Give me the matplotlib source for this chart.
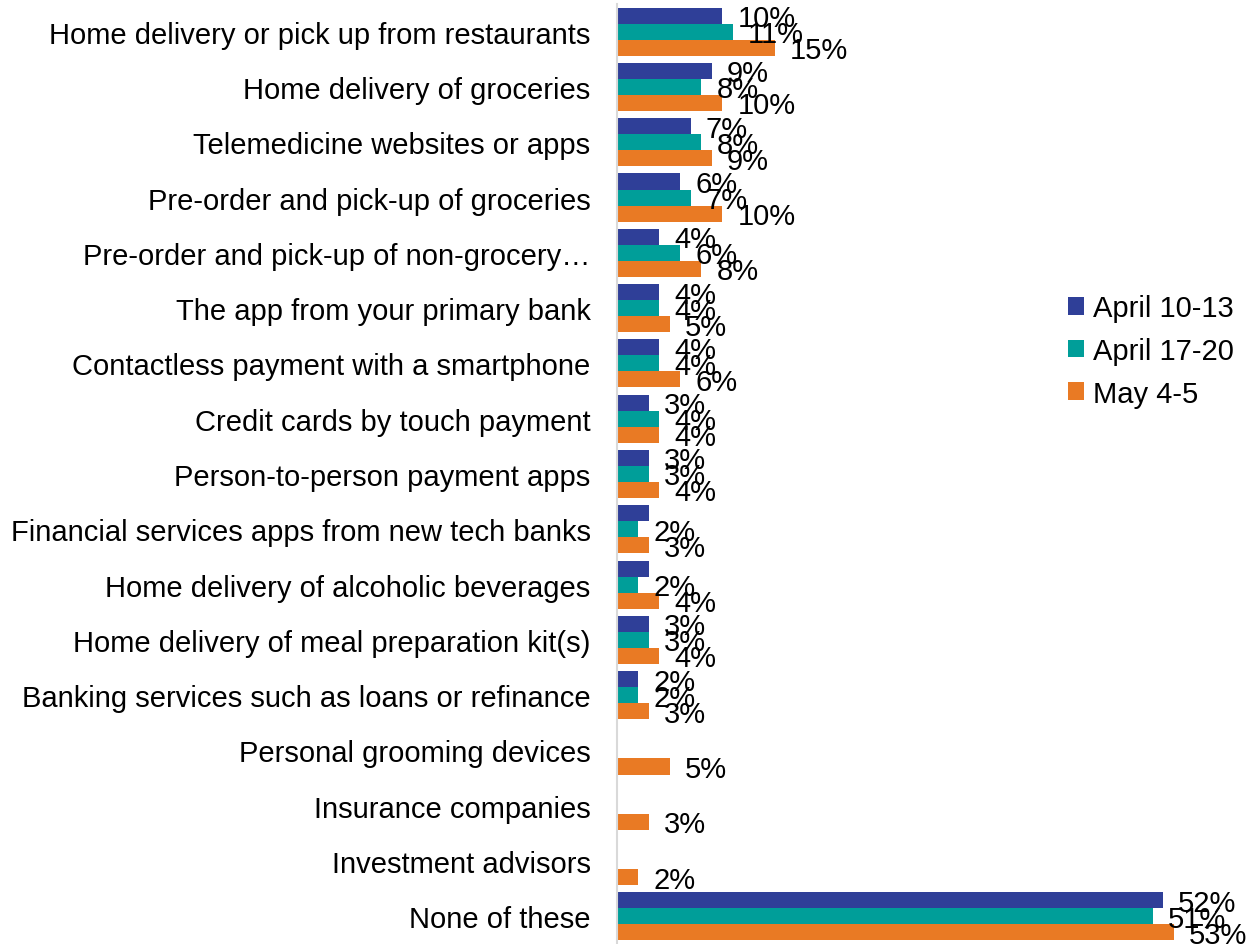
import numpy as np
import matplotlib
matplotlib.use('Agg')
import matplotlib.pyplot as plt

plt.rcParams['font.family'] = ['Liberation Sans', 'DejaVu Sans']

categories = [
    'Home delivery or pick up from restaurants',
    'Home delivery of groceries',
    'Telemedicine websites or apps',
    'Pre-order and pick-up of groceries',
    'Pre-order and pick-up of non-grocery\u2026',
    'The app from your primary bank',
    'Contactless payment with a smartphone',
    'Credit cards by touch payment',
    'Person-to-person payment apps',
    'Financial services apps from new tech banks',
    'Home delivery of alcoholic beverages',
    'Home delivery of meal preparation kit(s)',
    'Banking services such as loans or refinance',
    'Personal grooming devices',
    'Insurance companies',
    'Investment advisors',
    'None of these',
]
series_names = ['April 10-13', 'April 17-20', 'May 4-5']
april_10_13 = [10, 9, 7, 6, 4, 4, 4, 3, 3, 3, 3, 3, 2, np.nan, np.nan, np.nan, 52]
april_17_20 = [11, 8, 8, 7, 6, 4, 4, 4, 3, 2, 2, 3, 2, np.nan, np.nan, np.nan, 51]
may_4_5 = [15, 10, 9, 10, 8, 5, 6, 4, 4, 3, 4, 4, 3, 5, 3, 2, 53]
# labels that are not shown in the original (overlapped)
hidden_labels = {(0, 9), (0, 10)}

colors = ['#2F3F98', '#009E99', '#E97A24']

fig = plt.figure(figsize=(12.5, 9.45), dpi=100)
ax = fig.add_axes([617 / 1250, 0.0, 630 / 1250, 940 / 945])

y = np.arange(len(categories))
h = 0.29
fs = 21
cap_off = -0.716 * fs / 2

for i, vals in enumerate([april_10_13, april_17_20, may_4_5]):
    pos = y + (i - 1) * h
    ax.barh(pos, vals, height=h, color=colors[i], label=series_names[i])
    for j, v in enumerate(vals):
        if np.isnan(v) or (i, j) in hidden_labels:
            continue
        ax.annotate('%d%%' % v, (v, pos[j]), xytext=(11, cap_off),
                    textcoords='offset points', va='baseline', ha='left',
                    fontsize=fs, color='black')

ax.set_xlim(0, 60)
ax.set_ylim(len(categories) - 0.5, -0.5)
ax.set_yticks(y)
ax.set_yticklabels(categories, fontsize=fs)
ax.tick_params(axis='y', length=0, pad=19)
ax.set_xticks([])
for s in ['top', 'right', 'bottom']:
    ax.spines[s].set_visible(False)
ax.spines['left'].set_color('#D9D9D9')
ax.spines['left'].set_linewidth(1.5)

fig.legend(loc='center left', bbox_to_anchor=(1068 / 1250, 1 - 352 / 945),
           bbox_transform=fig.transFigure, frameon=False, fontsize=fs,
           handlelength=0.55, handleheight=0.55, handletextpad=0.3,
           labelspacing=0.5, borderpad=0, borderaxespad=0)

fig.savefig('out.png', dpi=100)
